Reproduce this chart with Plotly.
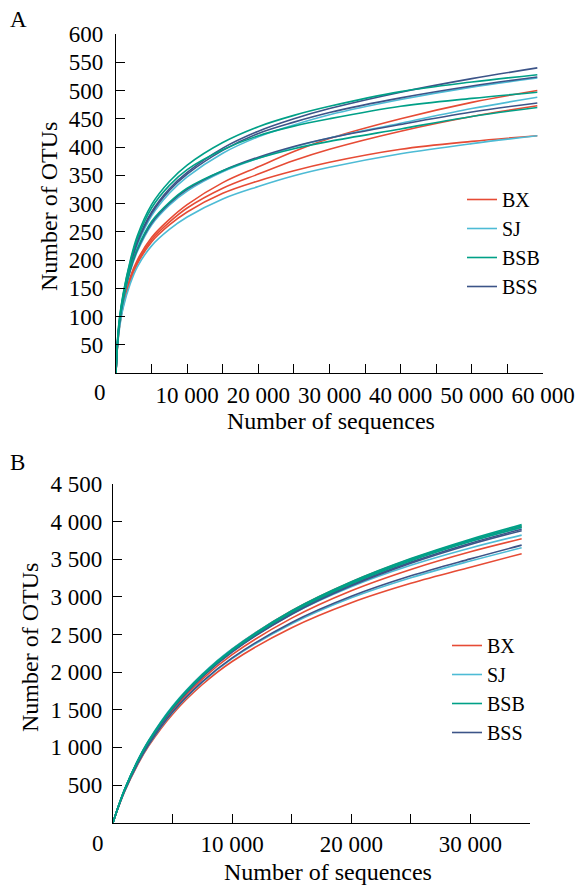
import plotly.graph_objects as go

W, H = 579, 886

# ---------------- Panel A data ----------------
a_seq = [0, 200, 500, 1000, 2000, 3000, 5000, 7500, 10000, 15000, 20000, 25000, 30000, 40000, 50000, 59200]
a_BX = [
    [0, 47, 85, 122, 170, 200, 240, 272, 298, 337, 365, 392, 415, 450, 479, 500],
    [0, 46, 84, 120, 166, 196, 236, 267, 292, 327, 352, 376, 396, 428, 454, 473],
    [0, 46, 83, 118, 163, 193, 232, 262, 285, 318, 340, 358, 373, 396, 410, 420],
]
a_SJ = [
    [0, 50, 90, 130, 186, 226, 278, 318, 347, 389, 418, 439, 457, 484, 506, 522],
    [0, 48, 88, 127, 180, 215, 262, 297, 322, 356, 380, 400, 416, 442, 468, 488],
    [0, 45, 80, 115, 158, 188, 225, 254, 276, 308, 330, 349, 364, 388, 406, 420],
]
a_BSB = [
    [0, 55, 98, 140, 199, 243, 298, 339, 368, 408, 436, 456, 472, 498, 515, 528],
    [0, 55, 97, 138, 196, 238, 292, 332, 360, 395, 420, 437, 450, 472, 486, 497],
    [0, 50, 90, 130, 184, 220, 268, 302, 327, 358, 380, 397, 410, 432, 454, 470],
]
a_BSS = [
    [0, 52, 93, 135, 193, 233, 285, 326, 355, 398, 428, 450, 468, 497, 521, 540],
    [0, 52, 92, 133, 190, 230, 282, 323, 352, 394, 424, 444, 461, 487, 508, 524],
    [0, 49, 89, 128, 182, 218, 265, 300, 325, 358, 382, 401, 416, 440, 462, 478],
]
a_yticks = [50, 100, 150, 200, 250, 300, 350, 400, 450, 500, 550, 600]
a_xticks = [5000, 10000, 15000, 20000, 25000, 30000, 35000, 40000, 45000, 50000, 55000, 60000]
a_xtext = ["", "10 000", "", "20 000", "", "30 000", "", "40 000", "", "50 000", "", "60 000"]

# ---------------- Panel B data ----------------
b_seq = [0, 200, 500, 1000, 2000, 3000, 5000, 7500, 10000, 15000, 20000, 25000, 30000, 34300]
b_BX = [
    [0, 97, 233, 437, 775, 1055, 1495, 1908, 2232, 2718, 3082, 3365, 3600, 3772],
    [0, 94, 226, 423, 750, 1020, 1442, 1836, 2142, 2590, 2922, 3180, 3395, 3574],
    [0, 100, 240, 450, 800, 1088, 1542, 1970, 2306, 2816, 3198, 3502, 3752, 3930],
]
b_SJ = [
    [0, 100, 240, 450, 798, 1082, 1530, 1950, 2280, 2770, 3135, 3420, 3650, 3821],
    [0, 96, 230, 430, 762, 1036, 1466, 1868, 2180, 2643, 2988, 3255, 3477, 3653],
    [0, 102, 244, 455, 806, 1095, 1550, 1975, 2310, 2812, 3190, 3492, 3745, 3920],
]
b_BSB = [
    [0, 101, 242, 452, 802, 1089, 1541, 1968, 2304, 2815, 3200, 3509, 3767, 3960],
    [0, 100, 240, 450, 798, 1084, 1535, 1960, 2295, 2805, 3188, 3495, 3752, 3945],
    [0, 99, 238, 447, 794, 1079, 1528, 1952, 2286, 2794, 3175, 3480, 3735, 3925],
]
b_BSS = [
    [0, 98, 236, 444, 790, 1074, 1522, 1945, 2278, 2782, 3160, 3462, 3714, 3900],
    [0, 97, 234, 441, 786, 1069, 1515, 1937, 2268, 2770, 3147, 3447, 3697, 3880],
    [0, 96, 230, 430, 763, 1038, 1470, 1875, 2190, 2660, 3008, 3280, 3505, 3688],
]
b_yticks = [500, 1000, 1500, 2000, 2500, 3000, 3500, 4000, 4500]
b_ytext = ["500", "1 000", "1 500", "2 000", "2 500", "3 000", "3 500", "4 000", "4 500"]
b_xticks = [5000, 10000, 15000, 20000, 25000, 30000, 35000]
b_xtext = ["", "10 000", "", "20 000", "", "30 000", ""]

colors = {"BX": "#E64B35", "SJ": "#4DBBD5", "BSB": "#00A087", "BSS": "#3C5488"}
rank = {"BX": 1, "SJ": 2, "BSB": 3, "BSS": 4}

FONT = "Liberation Serif"
fig = go.Figure()


def add_panel(seq, data, xa, ya, legend):
    for g in ["BX", "SJ", "BSS", "BSB"]:
        for i, ys in enumerate(data[g]):
            fig.add_trace(go.Scatter(
                x=seq, y=ys, mode="lines", xaxis=xa, yaxis=ya,
                line=dict(color=colors[g], width=1.6, shape="spline", smoothing=1.0),
                name=g, legendgroup=legend + g, showlegend=(i == 0),
                legend=legend, legendrank=rank[g], hoverinfo="skip"))


add_panel(a_seq, {"BX": a_BX, "SJ": a_SJ, "BSB": a_BSB, "BSS": a_BSS}, "x", "y", "legend")
add_panel(b_seq, {"BX": b_BX, "SJ": b_SJ, "BSB": b_BSB, "BSS": b_BSS}, "x2", "y2", "legend2")

axis_common = dict(showline=True, linecolor="black", linewidth=1.3, ticks="inside",
                   tickcolor="black", tickwidth=1.3, ticklen=9, showgrid=False,
                   zeroline=False, automargin=False,
                   tickfont=dict(family=FONT, size=23, color="black"))


def px(x):
    return x / W


def py(y):
    return 1 - y / H


fig.update_layout(
    width=W, height=H, margin=dict(l=0, r=0, t=0, b=0),
    paper_bgcolor="white", plot_bgcolor="white", template="none",
    font=dict(family=FONT, size=23, color="black"),
    xaxis=dict(domain=[px(116), px(543)], range=[0, 60000], anchor="y",
               tickmode="array", tickvals=a_xticks, ticktext=a_xtext,
               ticklabelstandoff=1, **axis_common),
    yaxis=dict(domain=[py(373), py(34)], range=[0, 600], anchor="x",
               tickmode="array", tickvals=a_yticks, ticktext=[str(v) for v in a_yticks],
               ticklabelstandoff=7, **axis_common),
    xaxis2=dict(domain=[px(113), px(530)], range=[0, 35000], anchor="y2",
                tickmode="array", tickvals=b_xticks, ticktext=b_xtext,
                ticklabelstandoff=1, **axis_common),
    yaxis2=dict(domain=[py(822.7), py(484)], range=[0, 4500], anchor="x2",
                tickmode="array", tickvals=b_yticks, ticktext=b_ytext,
                ticklabelstandoff=5, **axis_common),
    legend=dict(x=px(462), y=py(180), xanchor="left", yanchor="top",
                bgcolor="rgba(0,0,0,0)", font=dict(family=FONT, size=20, color="black"),
                tracegroupgap=0),
    legend2=dict(x=px(447), y=py(626), xanchor="left", yanchor="top",
                 bgcolor="rgba(0,0,0,0)", font=dict(family=FONT, size=20, color="black"),
                 tracegroupgap=0),
    showlegend=True,
)

title_font = dict(family=FONT, size=24, color="black")
annotations = [
    dict(text="A", x=px(18), y=py(20), font=dict(family=FONT, size=23, color="black")),
    dict(text="B", x=px(17), y=py(462), font=dict(family=FONT, size=23, color="black")),
    dict(text="Number of OTUs", x=px(49), y=py(207), textangle=-90, font=title_font),
    dict(text="Number of OTUs", x=px(30), y=py(648), textangle=-90, font=title_font),
    dict(text="Number of sequences", x=px(331), y=py(421), font=title_font),
    dict(text="Number of sequences", x=px(328), y=py(872), font=title_font),
    dict(text="0", x=px(100), y=py(393), font=dict(family=FONT, size=23, color="black")),
    dict(text="0", x=px(98), y=py(843), font=dict(family=FONT, size=23, color="black")),
]
for a in annotations:
    fig.add_annotation(xref="paper", yref="paper", xanchor="center", yanchor="middle",
                       showarrow=False, **a)

fig.write_html("out.html")
